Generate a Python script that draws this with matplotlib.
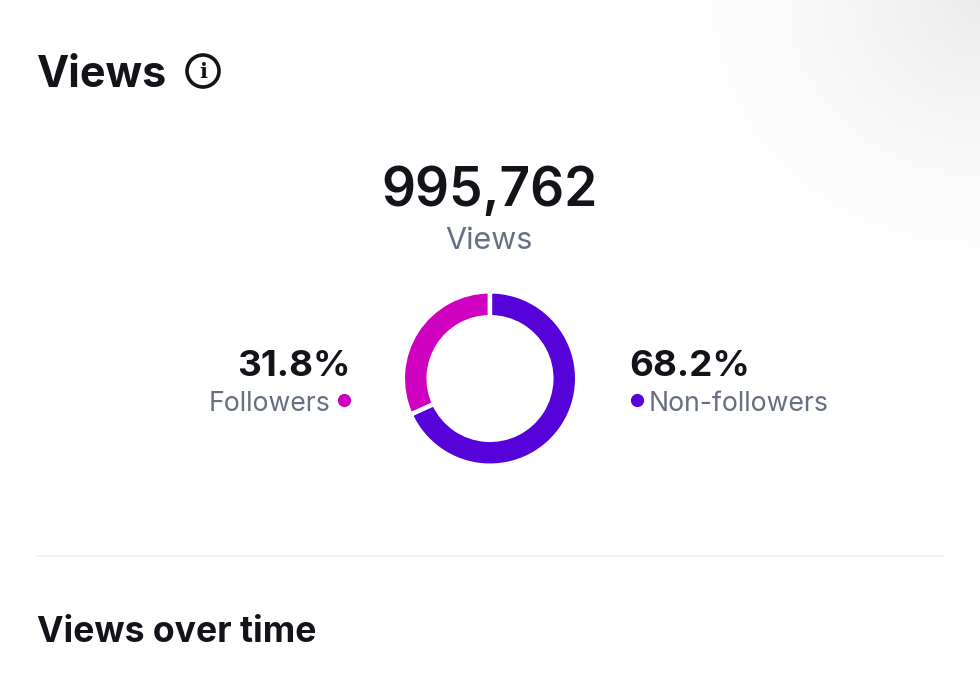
import numpy as np
import matplotlib
matplotlib.use("Agg")
import matplotlib.pyplot as plt
from matplotlib.patches import Circle

labels = ["Followers", "Non-followers"]
shares = [31.8, 68.2]
pct_labels = ["31.8%", "68.2%"]
colors = ["#cf00bf", "#5503d9"]
total_views = "995,762"

plt.rcParams["font.family"] = ["Inter", "DejaVu Sans"]

W, H = 980, 673
fig = plt.figure(figsize=(W / 100, H / 100), dpi=100, facecolor="white")

# page layer, coordinates in pixels of the picture
bg = fig.add_axes([0, 0, 1, 1])
bg.set_xlim(0, W)
bg.set_ylim(H, 0)
bg.axis("off")

# soft grey shading in the top right corner
xx, yy = np.meshgrid(np.arange(W), np.arange(H))
dist = np.hypot(W - xx, yy * 1.1)
shade = 1 - 0.08 * np.clip(1 - dist / 430, 0, 1) ** 2.2
shade = np.round(shade * 255).astype(np.uint8)
bg.imshow(np.dstack([shade, shade, shade]), extent=(0, W, H, 0), aspect="auto",
          interpolation="none", zorder=0)

dark = "#12141a"
grey = "#667080"

bg.text(37, 87, "Views", fontsize=31, fontweight="bold", color=dark, va="baseline", ha="left")
bg.add_patch(Circle((203, 71), 16, fill=False, ec=dark, lw=2.6))
bg.text(203, 78, "i", fontsize=15, fontweight="bold", family="DejaVu Serif", color=dark, va="baseline", ha="center")

bg.text(490, 206, total_views, fontsize=38.4, fontweight="semibold", color=dark, va="baseline", ha="center")
bg.text(489, 249, "Views", fontsize=22, color=grey, va="baseline", ha="center")

bg.text(350.5, 376, pct_labels[0], fontsize=26.5, fontweight="bold", color=dark, va="baseline", ha="right")
bg.text(330, 411, labels[0], fontsize=19.2, color=grey, va="baseline", ha="right")
bg.plot([343.5], [400], "o", ms=9.5, color=colors[0], mec="none")

bg.text(629, 376, pct_labels[1], fontsize=26.5, fontweight="bold", color=dark, va="baseline", ha="left")
bg.text(649, 411, labels[1], fontsize=19.2, color=grey, va="baseline", ha="left")
bg.plot([636.5], [400], "o", ms=9.5, color=colors[1], mec="none")

bg.plot([37, 943], [556, 556], color="#f1f1f2", lw=1.2)

bg.text(37, 642, "Views over time", fontsize=25.6, fontweight="bold", color=dark, va="baseline", ha="left")

# donut, centre 490,378.5; white edges eat about 2 px on each side
cx, cy, r = 490, 378.5, 87.2
ax = fig.add_axes([(cx - r) / W, 1 - (cy + r) / H, 2 * r / W, 2 * r / H])
ax.pie(
    shares,
    colors=colors,
    startangle=90,
    radius=1,
    wedgeprops={"width": 0.297, "edgecolor": "white", "linewidth": 3.2},
)
ax.set_xlim(-1, 1)
ax.set_ylim(-1, 1)

fig.savefig("out.png", dpi=100)
